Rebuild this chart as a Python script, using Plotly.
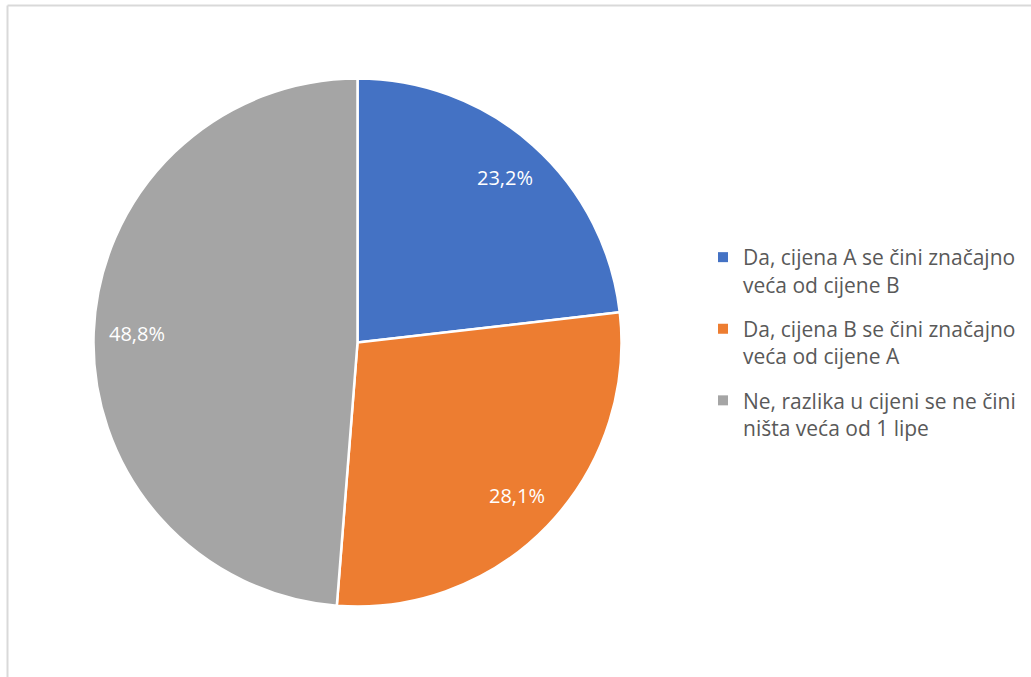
import math
import plotly.graph_objects as go

labels = [
    "Da, cijena A se čini značajno<br>veća od cijene B",
    "Da, cijena B se čini značajno<br>veća od cijene A",
    "Ne, razlika u cijeni se ne čini<br>ništa veća od 1 lipe",
]
values = [23.2, 28.1, 48.8]
colors = ["#4472C4", "#ED7D31", "#A5A5A5"]

W, H = 1031, 677
cx, cy, R = 357.5, 342.5, 264
FONT = "Open Sans, Liberation Sans, sans-serif"

fig = go.Figure()
fig.add_trace(go.Pie(
    labels=labels,
    values=values,
    sort=False,
    direction="clockwise",
    rotation=0,
    marker=dict(colors=colors, line=dict(color="white", width=2.5)),
    textinfo="none",
    hoverinfo="label+percent",
    showlegend=False,
    domain=dict(x=[(cx - R) / W, (cx + R) / W], y=[1 - (cy + R) / H, 1 - (cy - R) / H]),
))

# legend entries (one per slice, so spacing between entries can be set)
for i, (lab, col) in enumerate(zip(labels, colors)):
    fig.add_trace(go.Scatter(
        x=[None], y=[None], mode="markers", name=lab,
        marker=dict(symbol="square", size=10, color=col),
        legendgroup=f"g{i}", showlegend=True, hoverinfo="skip",
    ))

# data labels along each slice's mid angle
total = sum(values)
cum = 0
annotations = []
for v in values:
    mid = (cum + v / 2) / total * 2 * math.pi
    cum += v
    px = cx + 0.837 * R * math.sin(mid)
    py = cy - 0.837 * R * math.cos(mid)
    annotations.append(dict(
        x=px / W, y=1 - py / H, xref="paper", yref="paper",
        xanchor="center", yanchor="middle",
        text=f"{v:.1f}%".replace(".", ","), showarrow=False,
        font=dict(color="white", size=20, family=FONT),
    ))

fig.update_layout(
    width=W, height=H,
    margin=dict(l=0, r=0, t=0, b=0),
    paper_bgcolor="white",
    plot_bgcolor="white",
    annotations=annotations,
    xaxis=dict(visible=False),
    yaxis=dict(visible=False),
    legend=dict(
        x=703 / W, y=1 - 237 / H, xanchor="left", yanchor="top",
        font=dict(size=21, color="#595959", family=FONT),
        itemwidth=30,
        tracegroupgap=14,
        valign="top",
        itemclick=False, itemdoubleclick=False,
    ),
    shapes=[
        dict(type="line", xref="paper", yref="paper", x0=7.5 / W, x1=7.5 / W, y0=0, y1=1 - 5.5 / H,
             line=dict(color="#D9D9D9", width=2)),
        dict(type="line", xref="paper", yref="paper", x0=7.5 / W, x1=1, y0=1 - 5.5 / H, y1=1 - 5.5 / H,
             line=dict(color="#D9D9D9", width=2)),
    ],
)

fig.write_html("out.html", config={"displayModeBar": False},
               post_script="document.body.style.margin='0';")
